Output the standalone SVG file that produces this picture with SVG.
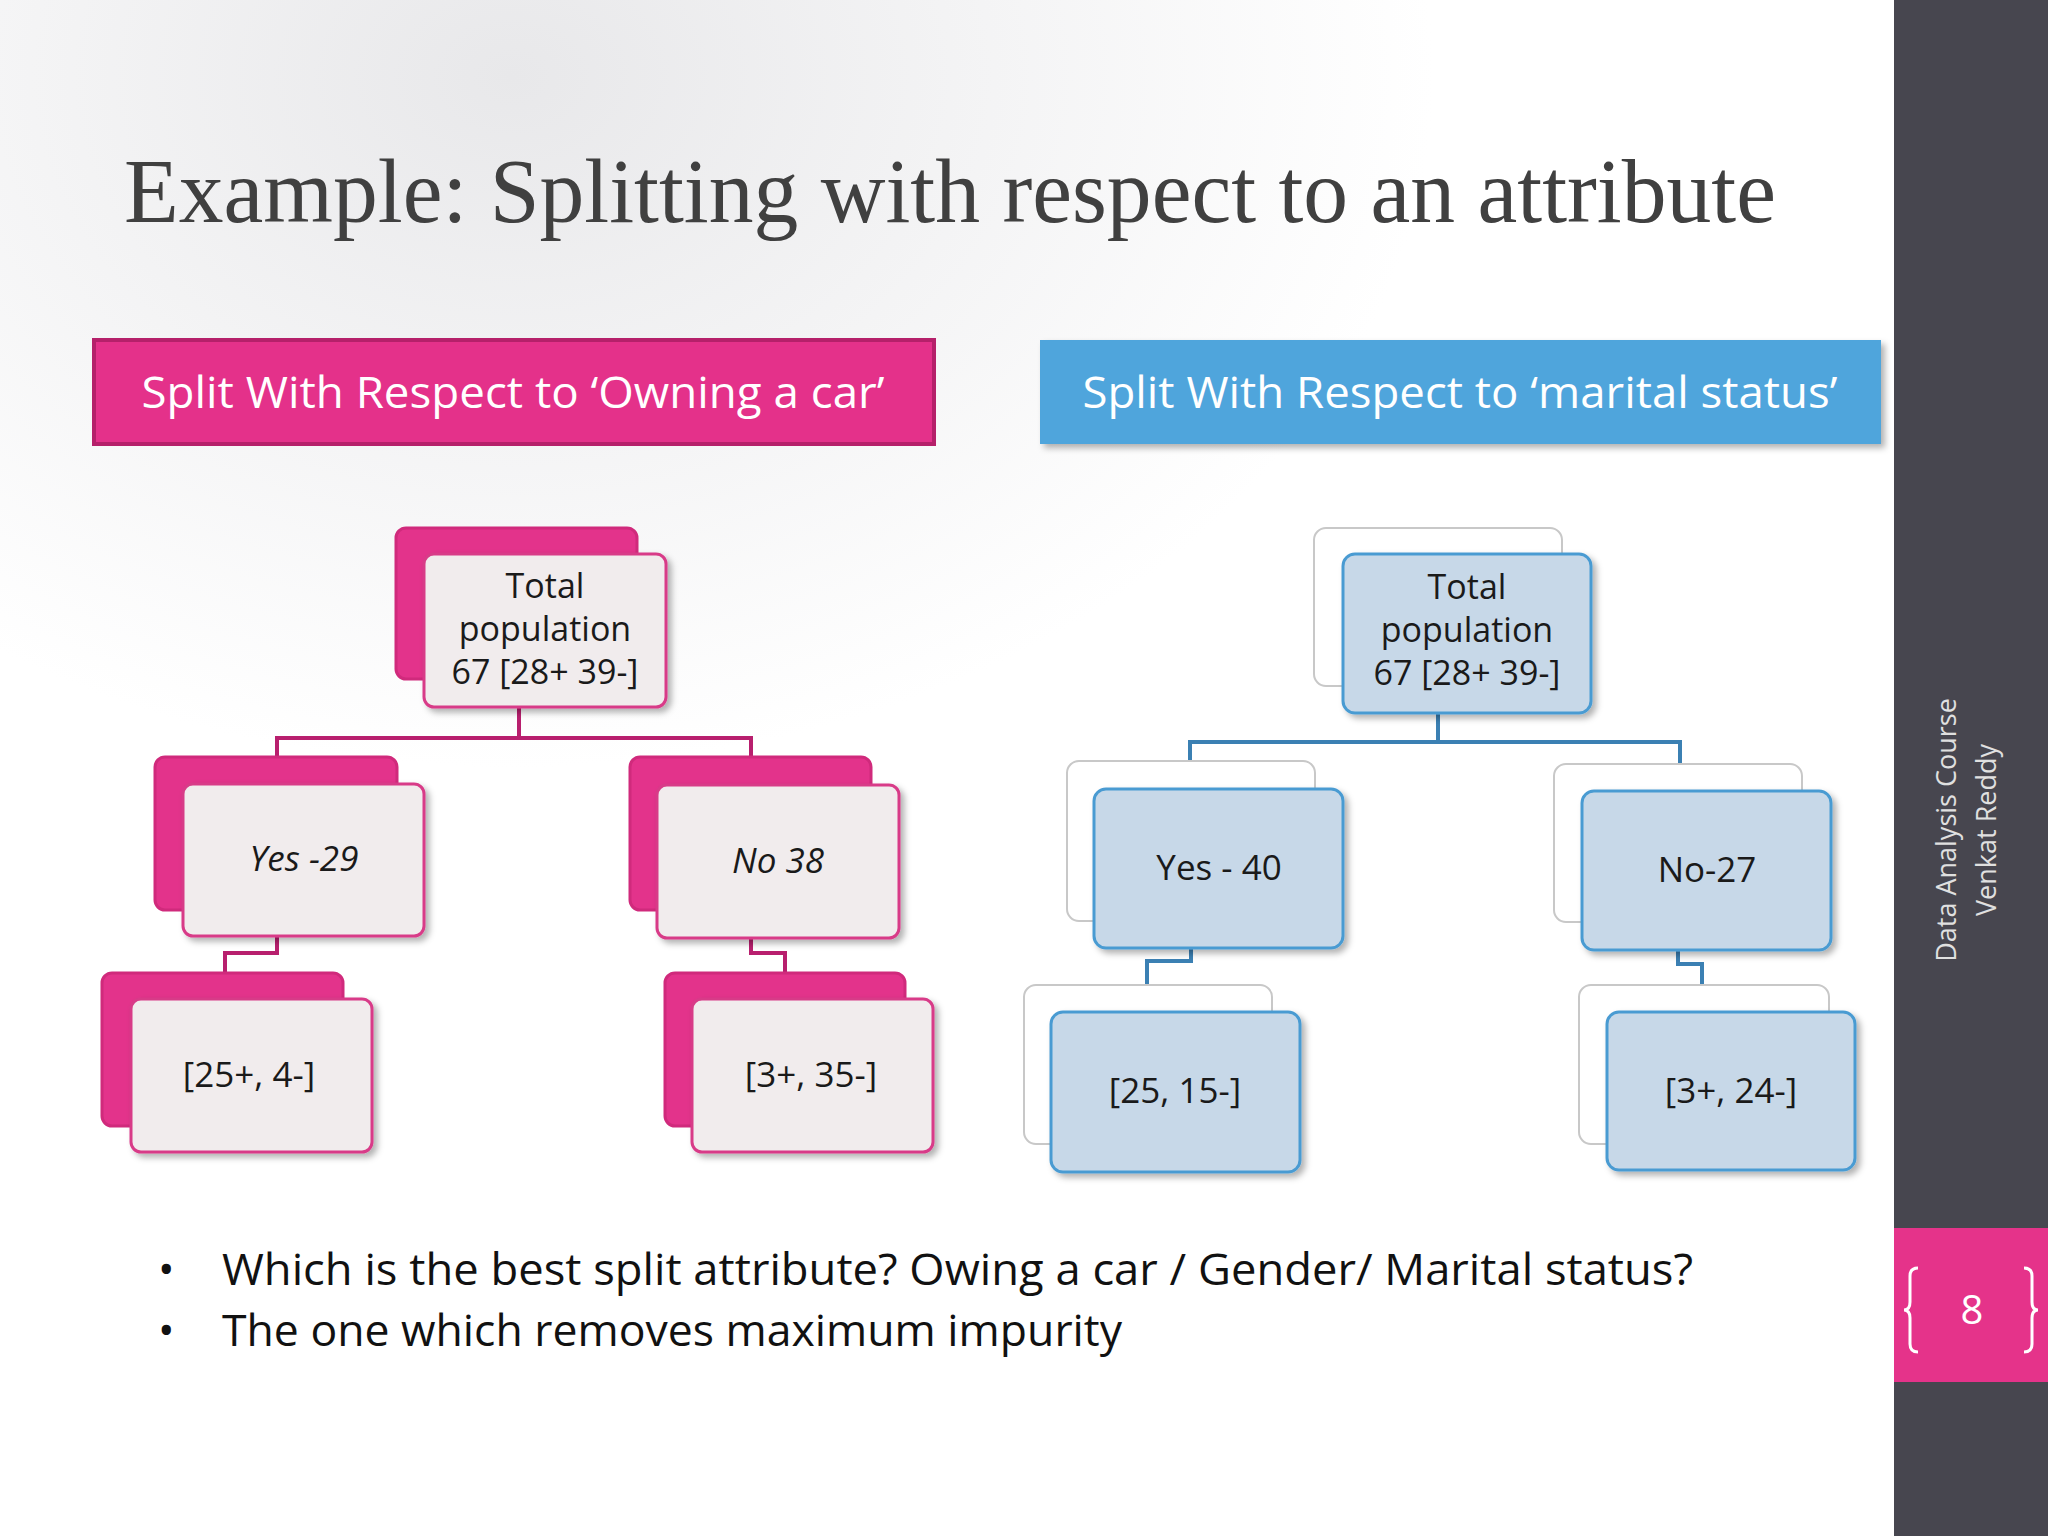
<svg xmlns="http://www.w3.org/2000/svg" width="2048" height="1536" viewBox="0 0 2048 1536">
<defs>
<radialGradient id="bg" cx="0.25" cy="0.05" r="0.9">
<stop offset="0" stop-color="#e8e8ea"/><stop offset="0.5" stop-color="#ffffff"/><stop offset="1" stop-color="#ffffff"/>
</radialGradient>
<filter id="sh" x="-10%" y="-10%" width="130%" height="130%"><feDropShadow dx="4" dy="4" stdDeviation="3" flood-color="#000" flood-opacity="0.3"/></filter>
</defs>
<style>
.t{font-family:"Open Sans","Noto Sans","Liberation Sans",sans-serif;fill:#1a1a1a;text-anchor:middle}
.pb{fill:#e3338b;stroke:#d02a7c;stroke-width:3}
.pf{fill:#f1eced;stroke:#d83b88;stroke-width:3}
.bb{fill:#fff;stroke:#c8c8c8;stroke-width:2}
.bf{fill:#c7d8e8;stroke:#4a9bd2;stroke-width:3}
.pc{fill:none;stroke:#b81f6e;stroke-width:4}
.bc{fill:none;stroke:#3b80b3;stroke-width:4}
</style>
<rect width="2048" height="1536" fill="url(#bg)"/>
<rect x="1894" y="0" width="154" height="1536" fill="#47464f"/>
<rect x="1894" y="1228" width="154" height="154" fill="#e5338a"/>
<path d="M1918 1268 q-8 0 -8 8 v26 q0 8 -6 8 q6 0 6 8 v26 q0 8 8 8 M2024 1268 q8 0 8 8 v26 q0 8 6 8 q-6 0 -6 8 v26 q0 8 -8 8" fill="none" stroke="#fff" stroke-width="3"/>
<text x="1972" y="1324" class="t" style="fill:#fff;font-size:40px">8</text>
<text transform="translate(1956,830) rotate(-90)" class="t" style="fill:#e0e0e0;font-size:27px">Data Analysis Course</text>
<text transform="translate(1996,830) rotate(-90)" class="t" style="fill:#e0e0e0;font-size:27px">Venkat Reddy</text>
<text x="124" y="222" font-family="Liberation Serif,serif" font-size="92" fill="#404040" textLength="1652" lengthAdjust="spacingAndGlyphs">Example: Splitting with respect to an attribute</text>
<g id="hdr-car"><rect x="94" y="340" width="840" height="104" fill="#e4318a" stroke="#b5206a" stroke-width="4"/>
<text x="513" y="408" class="t" style="fill:#fff;font-size:44px" textLength="743" lengthAdjust="spacingAndGlyphs">Split With Respect to ‘Owning a car’</text></g>
<g id="hdr-marital"><rect x="1040" y="340" width="841" height="104" fill="#4fa5dc" filter="url(#sh)"/>
<text x="1460" y="408" class="t" style="fill:#fff;font-size:44px" textLength="755" lengthAdjust="spacingAndGlyphs">Split With Respect to ‘marital status’</text></g>
<g id="connectors">
<path class="pc" d="M519 707 V738 H277 V760 M519 738 H751 V760"/>
<path class="pc" d="M277 936 V953 H225 V973 M751 938 V953 H785 V973"/>
<path class="bc" d="M1438 713 V742 H1190 V764 M1438 742 H1680 V764"/>
<path class="bc" d="M1191 948 V961 H1147 V986 M1678 950 V964 H1702 V986"/>
</g>
<g id="l-total"><rect class="pb" x="396" y="528" width="241" height="151" rx="10"/><rect class="pf" x="424" y="554" width="242" height="153" rx="10" filter="url(#sh)"/>
<text class="t" x="545" y="598" font-size="34">Total</text><text class="t" x="545" y="641" font-size="34">population</text><text class="t" x="545" y="684" font-size="34">67 [28+ 39-]</text></g>
<g id="l-yes"><rect class="pb" x="155" y="757" width="242" height="153" rx="10"/><rect class="pf" x="183" y="784" width="241" height="152" rx="10" filter="url(#sh)"/>
<text class="t" x="304" y="871" font-size="35" font-style="italic">Yes -29</text></g>
<g id="l-no"><rect class="pb" x="630" y="757" width="241" height="153" rx="10"/><rect class="pf" x="657" y="785" width="242" height="153" rx="10" filter="url(#sh)"/>
<text class="t" x="778" y="873" font-size="35" font-style="italic">No 38</text></g>
<g id="l-yes-c"><rect class="pb" x="102" y="973" width="241" height="153" rx="10"/><rect class="pf" x="131" y="999" width="241" height="153" rx="10" filter="url(#sh)"/>
<text class="t" x="249" y="1087" font-size="35">[25+, 4-]</text></g>
<g id="l-no-c"><rect class="pb" x="665" y="973" width="240" height="153" rx="10"/><rect class="pf" x="692" y="999" width="241" height="153" rx="10" filter="url(#sh)"/>
<text class="t" x="811" y="1087" font-size="35">[3+, 35-]</text></g>
<g id="r-total"><rect class="bb" x="1314" y="528" width="248" height="158" rx="12"/><rect class="bf" x="1343" y="554" width="248" height="159" rx="12" filter="url(#sh)"/>
<text class="t" x="1467" y="599" font-size="34">Total</text><text class="t" x="1467" y="642" font-size="34">population</text><text class="t" x="1467" y="685" font-size="34">67 [28+ 39-]</text></g>
<g id="r-yes"><rect class="bb" x="1067" y="761" width="248" height="160" rx="12"/><rect class="bf" x="1094" y="789" width="249" height="159" rx="12" filter="url(#sh)"/>
<text class="t" x="1219" y="880" font-size="35">Yes - 40</text></g>
<g id="r-no"><rect class="bb" x="1554" y="764" width="248" height="158" rx="12"/><rect class="bf" x="1582" y="791" width="249" height="159" rx="12" filter="url(#sh)"/>
<text class="t" x="1707" y="882" font-size="35">No-27</text></g>
<g id="r-yes-c"><rect class="bb" x="1024" y="985" width="248" height="159" rx="12"/><rect class="bf" x="1051" y="1012" width="249" height="160" rx="12" filter="url(#sh)"/>
<text class="t" x="1175" y="1103" font-size="35">[25, 15-]</text></g>
<g id="r-no-c"><rect class="bb" x="1579" y="985" width="250" height="159" rx="12"/><rect class="bf" x="1607" y="1012" width="248" height="158" rx="12" filter="url(#sh)"/>
<text class="t" x="1731" y="1103" font-size="35">[3+, 24-]</text></g>
<g font-family="Open Sans,Noto Sans,Liberation Sans,sans-serif" font-size="44" fill="#111">
<text x="158" y="1285">•</text><text x="158" y="1346">•</text>
<text x="222" y="1285" textLength="1471" lengthAdjust="spacingAndGlyphs">Which is the best split attribute? Owing a car / Gender/ Marital status?</text>
<text x="222" y="1346" textLength="900" lengthAdjust="spacingAndGlyphs">The one which removes maximum impurity</text>
</g>
</svg>
